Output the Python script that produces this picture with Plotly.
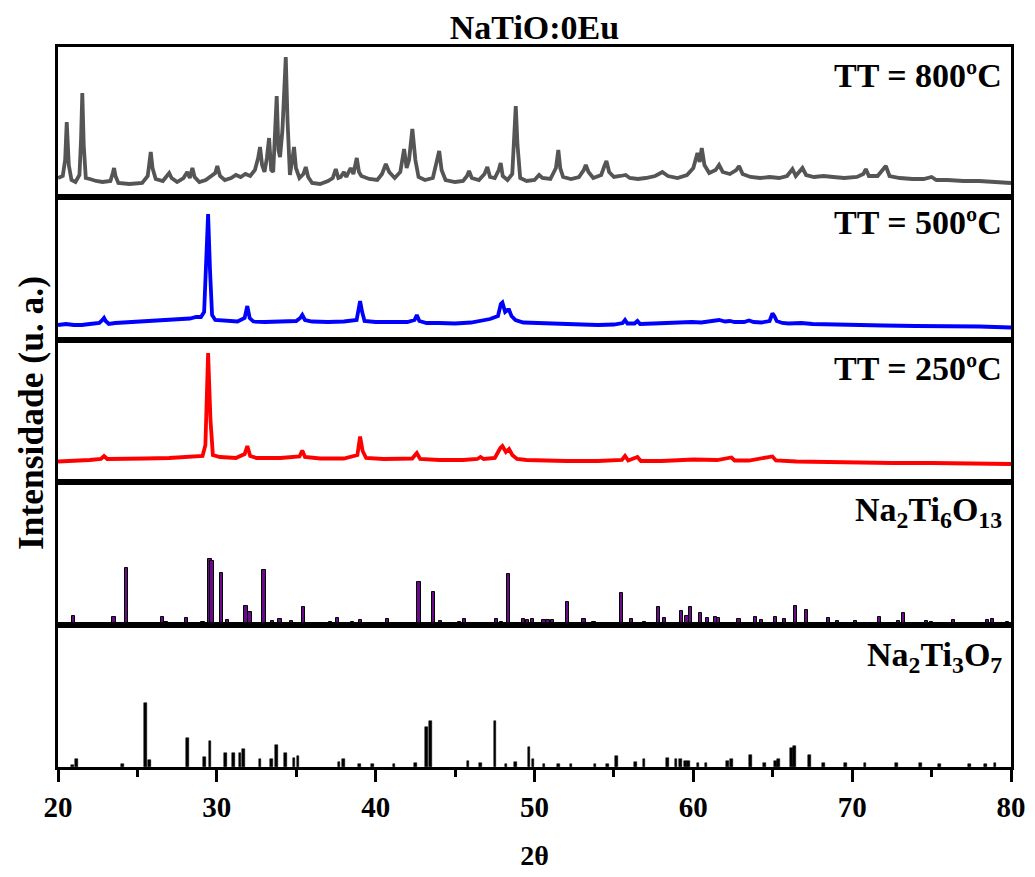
import plotly.graph_objects as go
from plotly.subplots import make_subplots

# ---------------- DATA (2theta in degrees, intensity in a.u.) ----------------
# TT = 800 C pattern (traced points)
x800 = [20.0, 20.3, 20.45, 20.55, 20.68, 20.85, 21.1, 21.35, 21.45, 21.53, 21.62, 21.75, 22.0, 22.4, 22.8,
        23.3, 23.45, 23.53, 23.62, 23.8, 24.5, 25.3, 25.65, 25.75, 25.84, 25.95, 26.15, 26.6, 26.9, 27.0,
        27.15, 27.5, 27.9, 28.14, 28.3, 28.46, 28.6, 28.9, 29.3, 29.9, 30.03, 30.2, 30.5, 30.9, 31.2,
        31.5, 31.8, 32.1, 32.4, 32.6, 32.72, 32.85, 33.0, 33.15, 33.29, 33.42, 33.55, 33.68, 33.77, 33.88,
        33.98, 34.13, 34.25, 34.34, 34.45, 34.6, 34.75, 34.86, 34.98, 35.2, 35.45, 35.6, 35.75, 36.0, 36.5,
        37.0, 37.3, 37.49, 37.65, 37.8, 38.0, 38.15, 38.3, 38.43, 38.6, 38.81, 38.95, 39.1, 39.6, 40.1,
        40.4, 40.64, 40.85, 41.2, 41.55, 41.79, 41.95, 42.1, 42.31, 42.5, 42.7, 43.1, 43.6, 43.85, 44.0,
        44.15, 44.4, 45.0, 45.5, 45.75, 45.88, 46.05, 46.5, 46.85, 47.03, 47.2, 47.5, 47.75, 47.87, 48.0,
        48.3, 48.6, 48.72, 48.82, 48.93, 49.1, 49.5, 50.0, 50.29, 50.5, 51.0, 51.35, 51.5, 51.62, 51.8,
        52.3, 52.8, 53.1, 53.23, 53.4, 53.7, 54.2, 54.4, 54.53, 54.7, 55.0, 55.4, 55.74, 56.0, 56.5,
        57.0, 57.6, 58.05, 58.4, 59.0, 59.6, 60.0, 60.26, 60.4, 60.53, 60.7, 61.0, 61.4, 61.62, 61.85,
        62.3, 62.7, 62.88, 63.1, 63.6, 64.2, 64.8, 65.4, 65.9, 66.24, 66.45, 66.87, 67.1, 67.6, 68.2,
        68.8, 69.5, 70.3, 70.7, 70.86, 71.05, 71.6, 71.95, 72.12, 72.35, 73.0, 73.8, 74.5, 75.0, 75.3,
        76.0, 77.0, 78.0, 79.0, 80.0]
y800 = [19, 21, 37, 75, 32, 17, 15, 22, 57, 104, 52, 19, 18, 16, 15,
        16, 24, 29, 21, 14, 13, 14, 21, 35, 45, 29, 18, 16, 21, 24,
        19, 15, 19, 25, 19, 29, 20, 15, 17, 24, 31, 21, 17, 19, 22,
        20, 23, 21, 27, 39, 50, 32, 25, 39, 59, 27, 25, 67, 101, 47,
        40, 67, 102, 140, 77, 22, 37, 50, 29, 19, 23, 30, 20, 14, 13,
        16, 19, 28, 19, 20, 25, 20, 25, 29, 23, 39, 25, 21, 18, 17,
        23, 33, 25, 19, 25, 48, 29, 37, 68, 37, 20, 17, 19, 35, 46,
        27, 17, 15, 16, 21, 26, 19, 17, 23, 30, 20, 19, 27, 34, 21,
        17, 23, 57, 91, 52, 19, 16, 17, 22, 19, 18, 29, 47, 29, 20,
        18, 20, 27, 32, 25, 19, 22, 31, 36, 25, 20, 21, 22, 19, 18,
        19, 21, 25, 21, 19, 22, 29, 44, 35, 49, 32, 24, 27, 32, 25,
        23, 27, 31, 23, 20, 19, 20, 19, 21, 28, 21, 29, 22, 20, 21,
        20, 19, 20, 23, 28, 21, 21, 27, 31, 21, 19, 18, 18, 20, 17,
        17, 16, 16, 15, 14]

# TT = 500 C pattern
x500 = [20.0, 20.5, 21.0, 21.5, 22.0, 22.6, 22.8, 22.9, 23.0, 23.2, 23.6, 24.5, 25.5, 26.5, 27.5,
        28.3, 28.7, 29.0, 29.2, 29.35, 29.45, 29.57, 29.7, 29.9, 30.5, 31.3, 31.75, 31.92, 32.07, 32.3,
        33.0, 34.0, 35.0, 35.25, 35.38, 35.55, 36.0, 37.0, 38.0, 38.8, 38.92, 39.02, 39.15, 39.3, 40.0,
        41.0, 42.0, 42.45, 42.59, 42.75, 43.2, 44.0, 45.0, 46.0, 46.6, 47.2, 47.7, 47.88, 47.98, 48.15,
        48.3, 48.4, 48.55, 48.8, 49.3, 50.0, 51.0, 52.0, 53.0, 54.0, 55.0, 55.55, 55.7, 55.85, 56.3,
        56.48, 56.65, 57.5, 58.5, 59.4, 59.9, 60.5, 61.2, 61.62, 62.0, 62.3, 62.6, 63.2, 63.5, 63.8,
        64.3, 64.8, 64.98, 65.1, 65.25, 65.6, 66.0, 66.8, 67.5, 68.5, 70.0, 72.0, 74.0, 76.0, 78.0, 80.0]
y500 = [15, 16, 15, 15, 16, 17, 20, 22, 19, 16, 17, 18, 19, 19.5, 20.5,
        21.5, 23, 23, 28, 80, 126, 70, 25, 20, 19, 18.5, 22, 34, 22, 18.5,
        18, 18.5, 19, 22, 25, 20, 18.5, 18, 18.5, 20, 30, 39, 28, 19, 18,
        18, 18, 20, 25, 19, 17, 17, 16.5, 17.5, 19, 21, 24, 36, 37.5, 28,
        30, 30, 24, 20, 17.5, 17, 16, 15.5, 15.5, 15, 15.5, 17, 20, 16.5, 16.5,
        19, 16, 16.5, 17, 18, 18, 17.5, 18.5, 20, 18.5, 19, 18, 18, 19.5, 18,
        17.5, 19, 26.5, 24, 19, 17, 16.5, 17, 16, 15.5, 15, 14.5, 14, 14, 13.5, 12.5]

# TT = 250 C pattern
x250 = [20.0, 21.0, 22.0, 22.7, 22.9, 23.1, 24.0, 25.5, 27.0, 28.5, 29.1, 29.28, 29.45, 29.6, 29.75,
        30.2, 31.2, 31.75, 31.92, 32.1, 32.5, 34.0, 35.2, 35.38, 35.55, 36.5, 38.0, 38.85, 39.02, 39.18,
        39.4, 40.5, 42.3, 42.59, 42.8, 44.0, 45.5, 46.4, 46.6, 46.8, 47.5, 47.85, 47.98, 48.2, 48.4,
        48.6, 48.9, 49.5, 50.5, 52.0, 54.0, 55.5, 55.7, 55.9, 56.48, 56.7, 58.0, 60.0, 61.5, 62.4,
        62.6, 63.5, 64.98, 65.2, 66.5, 68.0, 70.0, 72.5, 75.0, 77.5, 80.0]
y250 = [20.5, 21, 22, 23, 26, 23, 23, 23.5, 24, 25, 26, 37, 129, 62, 27,
        25, 24, 28, 36, 26, 24, 24, 25.5, 31.5, 25, 23.5, 23.5, 27, 45.5, 31,
        24, 23, 23.5, 29, 23, 22, 22, 23, 25, 23, 24, 34, 36, 30, 33,
        27, 23, 22, 21.5, 21, 21, 22, 26, 21.5, 25, 21, 21, 22.5, 22, 24.5,
        21.5, 21.5, 25.5, 21.5, 20.5, 20, 19.5, 19, 19, 18.5, 18]

# Na2Ti6O13 reference card (stick positions / relative intensity)
x_ti6 = [20.97, 23.53, 24.33, 26.57, 26.8, 28.1, 29.13, 29.57, 29.7, 30.29, 30.66, 31.84, 32.09, 32.97,
         33.5, 33.98, 34.69, 35.45, 37.17, 37.59, 38.53, 39.06, 40.74, 42.73, 43.63, 44.1, 45.3, 45.61,
         47.63, 47.9, 48.34, 49.3, 49.55, 49.87, 50.6, 50.85, 51.13, 52.07, 53.12, 53.75, 55.5, 56.13,
         56.9, 57.8, 58.16, 59.27, 59.6, 59.8, 60.47, 60.89, 61.41, 61.6, 62.88, 63.89, 64.3, 65.15,
         65.72, 66.45, 67.12, 68.5, 69.1, 70.23, 71.7, 72.9, 73.23, 74.68, 75.0, 76.36, 78.52, 78.84, 79.76]
h_ti6 = [9, 8, 57, 8, 3, 7, 3.5, 66, 64, 52, 5, 19, 13, 55,
         4.5, 6, 4.5, 18, 3.5, 7, 3.5, 5, 6, 43, 33, 4.5, 3.5, 6,
         6, 3.5, 51, 6, 5, 6, 5, 5, 5, 23, 6, 3.5, 32, 6,
         3.5, 18, 7, 14, 9, 18, 12, 7, 8, 7, 6, 8, 5, 8,
         6, 19, 15, 7, 4.5, 4.5, 8, 4.5, 12, 4.5, 3.5, 5, 5, 6, 3.5]

# Na2Ti3O7 reference card
x_ti3 = [20.9, 21.17, 24.05, 25.52, 25.74, 28.14, 29.23, 29.57, 30.56, 31.04, 31.46, 31.67, 32.72, 33.43,
         33.75, 34.34, 34.86, 35.11, 37.7, 37.97, 38.96, 39.8, 41.16, 42.52, 43.19, 43.43, 45.82, 46.62,
         47.52, 48.2, 48.82, 49.66, 49.9, 50.6, 51.5, 52.3, 53.8, 54.6, 55.18, 56.38, 56.9, 58.37, 58.9,
         59.2, 59.5, 59.7, 60.3, 60.8, 62.15, 62.4, 63.62, 64.5, 65.19, 65.35, 66.2, 66.35, 67.3, 68.2,
         69.6, 70.8, 72.8, 74.3, 75.5, 77.4, 78.4, 79.0]
h_ti3 = [2, 8, 3.5, 64, 7, 29, 10, 26, 14, 14, 14, 18, 8, 8,
         22, 14, 9, 11, 5, 8, 3.5, 3.5, 3.5, 4.5, 40, 46, 6, 4,
         46, 3, 5, 20, 8, 3.5, 3.5, 3.5, 3.5, 3.5, 11, 5, 8, 9, 8,
         8, 6, 6, 4.5, 4.5, 6, 8, 12, 4.5, 6, 8, 19, 21, 12, 4.5,
         4.5, 4, 4, 4, 3.5, 3.5, 3.5, 4.5]

panel_labels = ["TT = 800ºC", "TT = 500ºC", "TT = 250ºC",
                "Na<sub>2</sub>Ti<sub>6</sub>O<sub>13</sub>", "Na<sub>2</sub>Ti<sub>3</sub>O<sub>7</sub>"]
x_ticks = [20, 30, 40, 50, 60, 70, 80]

# ---------------- FIGURE ----------------
FONT = "Liberation Serif"
fig = make_subplots(rows=5, cols=1, shared_xaxes=True, vertical_spacing=0,
                    row_heights=[150, 143, 142, 143, 142])

fig.add_trace(go.Scatter(x=x800, y=y800, mode="lines",
                         line=dict(color="#555555", width=3.8), showlegend=False), row=1, col=1)
fig.add_trace(go.Scatter(x=x500, y=y500, mode="lines",
                         line=dict(color="#0000ff", width=3.8), showlegend=False), row=2, col=1)
fig.add_trace(go.Scatter(x=x250, y=y250, mode="lines",
                         line=dict(color="#ff0000", width=3.8), showlegend=False), row=3, col=1)
fig.add_trace(go.Bar(x=x_ti6, y=h_ti6, width=0.2, marker=dict(color="#6a0a8a",
                     line=dict(color="black", width=1)), showlegend=False), row=4, col=1)
fig.add_trace(go.Bar(x=x_ti3, y=h_ti3, width=0.17, marker=dict(color="black",
                     line=dict(color="black", width=0.5)), showlegend=False), row=5, col=1)

yranges = [[0, 150], [0, 143], [0, 142], [0, 143], [0, 142]]
label_y = [0.807, 0.825, 0.80, 0.79, 0.775]
for i in range(5):
    r = i + 1
    fig.update_yaxes(range=yranges[i], showticklabels=False, ticks="", showgrid=False,
                     zeroline=False, showline=True, mirror=True, linecolor="black",
                     linewidth=2.5, row=r, col=1)
    fig.update_xaxes(range=[20, 80], showgrid=False, zeroline=False, showline=True,
                     mirror=True, linecolor="black", linewidth=2.5, row=r, col=1)
    yname = "y" if r == 1 else f"y{r}"
    fig.add_annotation(text="<b>" + panel_labels[i] + "</b>", xref="x domain", yref=f"{yname} domain",
                       x=1, y=label_y[i], xanchor="right", yanchor="middle", xshift=-7,
                       showarrow=False, font=dict(family=FONT, size=34, color="black"))

for r in range(1, 5):
    fig.update_xaxes(ticks="", showticklabels=False, row=r, col=1)

fig.update_xaxes(ticks="outside", ticklen=12, tickwidth=2.5, tickcolor="black",
                 tickvals=x_ticks, ticktext=["<b>%d</b>" % v for v in x_ticks],
                 tickfont=dict(family=FONT, size=29, color="black"),
                 minor=dict(ticks="outside", ticklen=7, tickwidth=2.5, tickcolor="black", dtick=5, tick0=20),
                 title=dict(text="<b>2θ</b>", font=dict(family=FONT, size=28, color="black"), standoff=24),
                 row=5, col=1)

fig.add_annotation(text="<b>Intensidade (u. a.)</b>", xref="paper", yref="paper",
                   x=-0.029, y=0.492, xanchor="center", yanchor="middle", textangle=-90,
                   showarrow=False, font=dict(family=FONT, size=35.5, color="black"))

# the page body adds an 8px offset, so margins are reduced by 8px on left/top
fig.update_layout(
    width=1035, height=877,
    font=dict(family=FONT, color="black"),
    margin=dict(l=50, r=32, t=39, b=118, autoexpand=False),
    paper_bgcolor="white", plot_bgcolor="white",
    title=dict(text="<b>NaTiO:0Eu</b>", xref="paper", x=0.5, xanchor="center",
               yref="container", y=0.978, yanchor="middle",
               font=dict(family=FONT, size=34, color="black")),
    bargap=0,
)

fig.write_html("out.html")
